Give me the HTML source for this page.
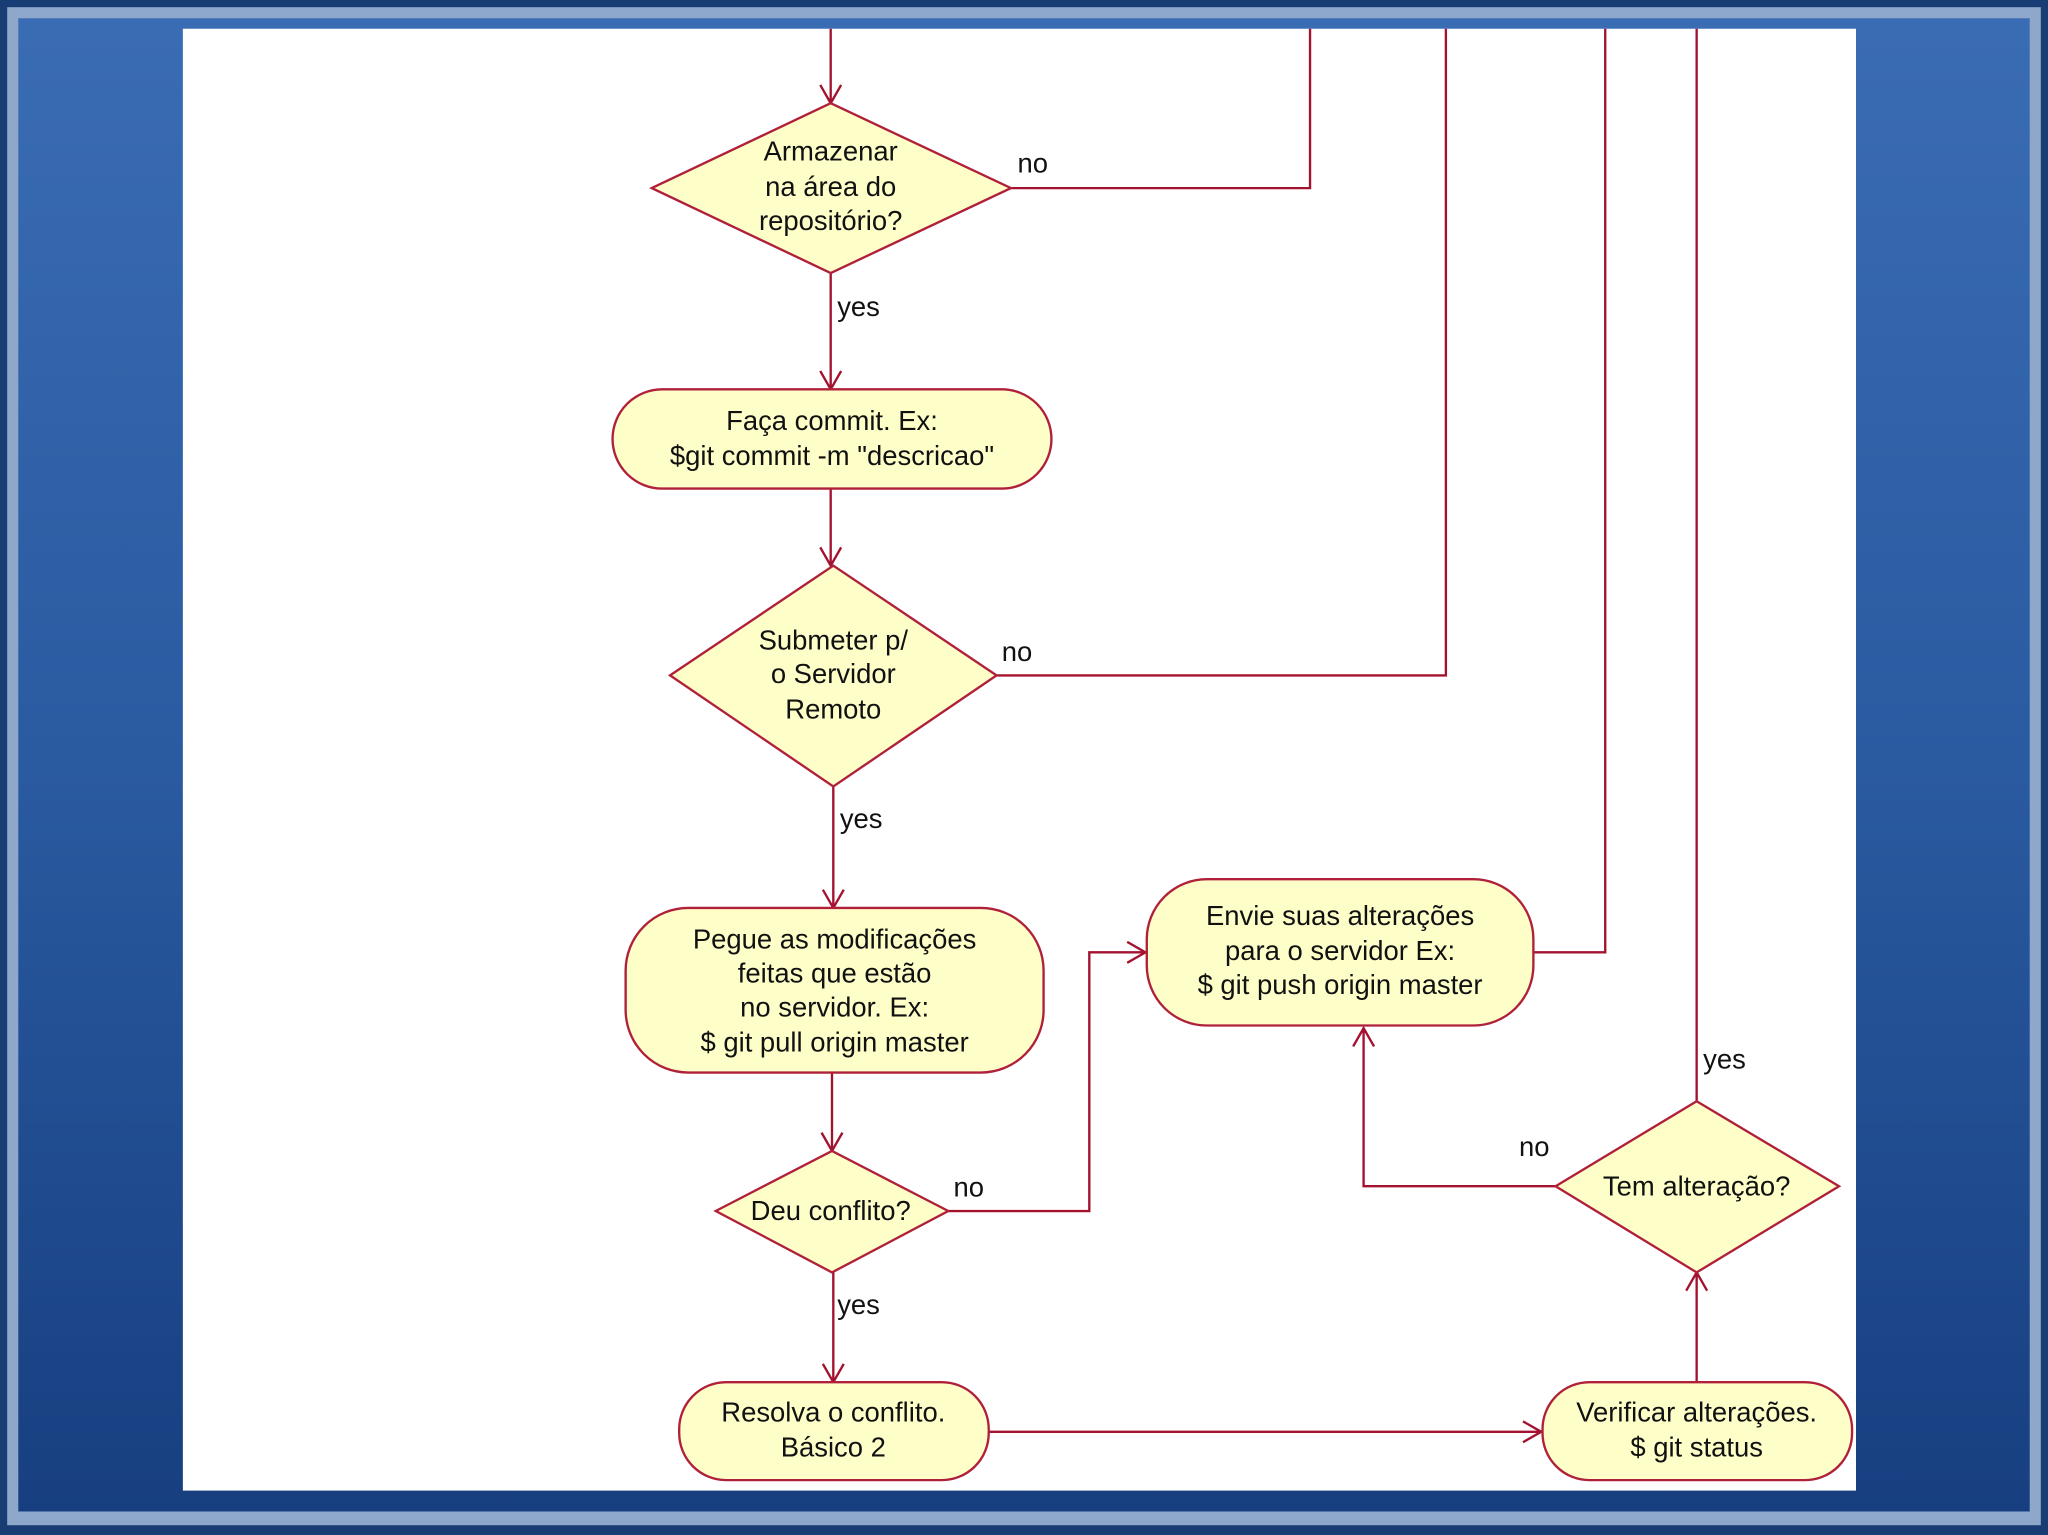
<!DOCTYPE html>
<html><head><meta charset="utf-8"><style>
html,body{margin:0;padding:0;width:2048px;height:1535px;overflow:hidden;background:#1d4a8c}
svg{display:block}
text{font-family:"Liberation Sans",sans-serif;font-size:21px;fill:#111}
</style></head><body>
<svg width="2048" height="1535" viewBox="0 0 1568 1175" preserveAspectRatio="none">
<defs>
<linearGradient id="bg" x1="0" y1="0" x2="0" y2="1">
<stop offset="0" stop-color="#3a6cb4"/><stop offset="0.5" stop-color="#2a5aa0"/><stop offset="1" stop-color="#173f80"/>
</linearGradient>
</defs>
<rect x="0" y="0" width="1568" height="1175" fill="#183c74"/>
<rect x="5.5" y="5.5" width="1557" height="1162" fill="#8ea8cc"/>
<rect x="14" y="14" width="1540" height="1143" fill="url(#bg)"/>
<rect x="140" y="22" width="1281" height="1119" fill="#ffffff"/>
<g stroke="#a3122f" stroke-width="1.8" fill="none">
<!-- top arrow -->
<line x1="636" y1="22" x2="636" y2="79"/><polyline points="628,65 636,79 644,65"/>
<!-- d1 no -->
<polyline points="774,144 1003,144 1003,22"/>
<!-- d1 yes -->
<line x1="636" y1="209" x2="636" y2="298"/><polyline points="628,284 636,298 644,284"/>
<line x1="636" y1="374" x2="636" y2="433"/><polyline points="628,419 636,433 644,419"/>
<polyline points="763,517 1107,517 1107,22"/>
<line x1="638" y1="602" x2="638" y2="695"/><polyline points="630,681 638,695 646,681"/>
<line x1="637" y1="821" x2="637" y2="881"/><polyline points="629,867 637,881 645,867"/>
<polyline points="726,927 834,927 834,729 877,729"/><polyline points="863,721 877,729 863,737"/>
<line x1="638" y1="974" x2="638" y2="1058"/><polyline points="630,1044 638,1058 646,1044"/>
<line x1="757" y1="1096" x2="1180" y2="1096"/><polyline points="1166,1088 1180,1096 1166,1104"/>
<line x1="1299" y1="1058" x2="1299" y2="974"/><polyline points="1291,988 1299,974 1307,988"/>
<line x1="1299" y1="843" x2="1299" y2="22"/>
<polyline points="1191,908 1044,908 1044,787"/><polyline points="1036,801 1044,787 1052,801"/>
<polyline points="1174,729 1229,729 1229,22"/>
</g>
<g fill="#fefec8" stroke="#b0203a" stroke-width="1.8">
<polygon points="499,144 636,79 774,144 636,209"/>
<rect x="469" y="298" width="336" height="76" rx="38"/>
<polygon points="513,517 638,433 763,517 638,602"/>
<rect x="479" y="695" width="320" height="126" rx="48"/>
<polygon points="548,927 637,881 726,927 637,974"/>
<rect x="520" y="1058" width="237" height="75" rx="36"/>
<rect x="1181" y="1058" width="237" height="75" rx="36"/>
<polygon points="1191,908 1299,843 1408,908 1299,974"/>
<rect x="878" y="673" width="296" height="112" rx="46"/>
</g>
<g text-anchor="middle">
<text x="636" y="123">Armazenar</text><text x="636" y="150">na área do</text><text x="636" y="176">repositório?</text>
<text x="637" y="329">Faça commit. Ex:</text><text x="637" y="356">$git commit -m "descricao"</text>
<text x="638" y="497">Submeter p/</text><text x="638" y="523">o Servidor</text><text x="638" y="550">Remoto</text>
<text x="639" y="726">Pegue as modificações</text><text x="639" y="752">feitas que estão</text><text x="639" y="778">no servidor. Ex:</text><text x="639" y="805">$ git pull origin master</text>
<text x="636" y="934">Deu conflito?</text>
<text x="638" y="1088">Resolva o conflito.</text><text x="638" y="1115">Básico 2</text>
<text x="1299" y="1088">Verificar alterações.</text><text x="1299" y="1115">$ git status</text>
<text x="1299" y="915">Tem alteração?</text>
<text x="1026" y="708">Envie suas alterações</text><text x="1026" y="735">para o servidor Ex:</text><text x="1026" y="761">$ git push origin master</text>
</g>
<g style="font-size:19px">
<text x="779" y="132">no</text>
<text x="641" y="242">yes</text>
<text x="767" y="506">no</text>
<text x="643" y="634">yes</text>
<text x="730" y="916">no</text>
<text x="641" y="1006">yes</text>
<text x="1304" y="818">yes</text>
<text x="1163" y="885">no</text>
</g>
</svg>
</body></html>
